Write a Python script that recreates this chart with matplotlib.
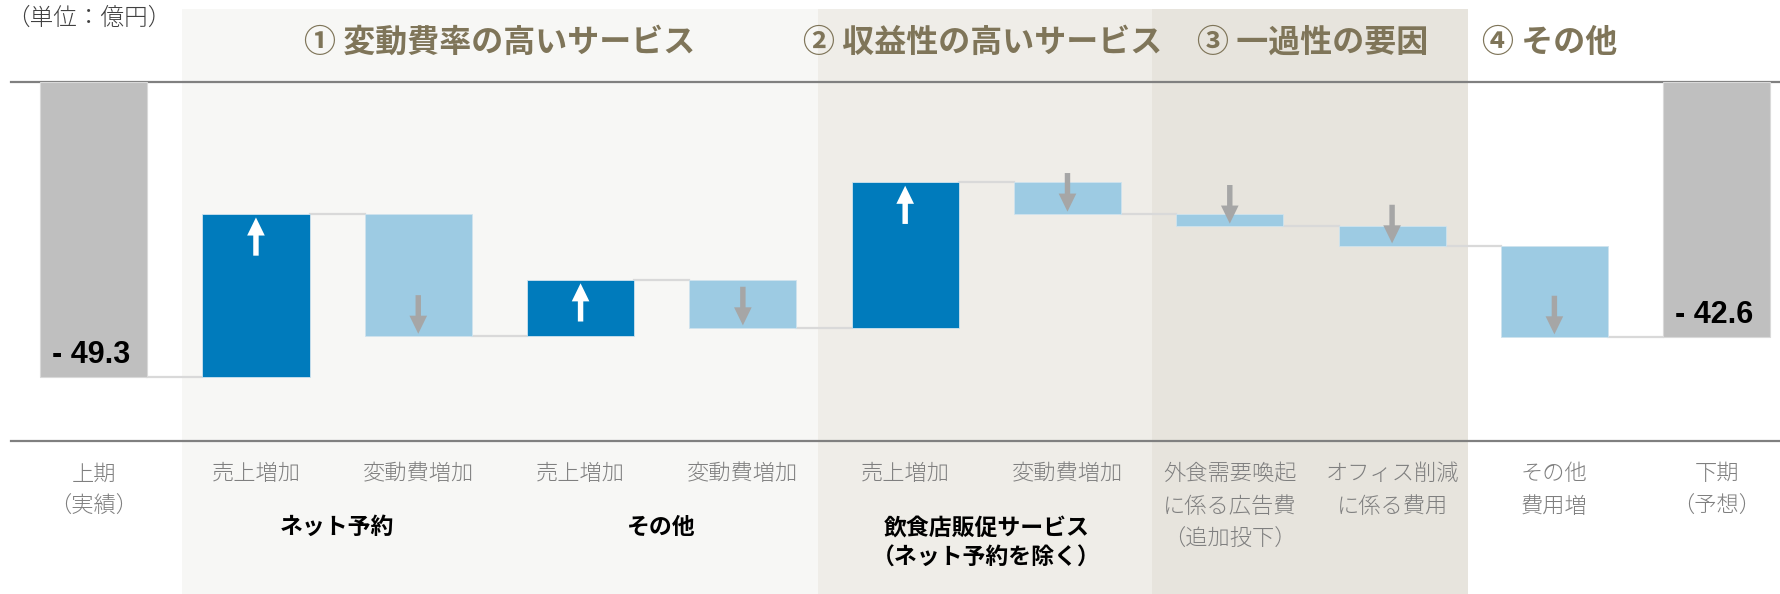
import matplotlib.pyplot as plt

plt.rcParams['font.family'] = ['Noto Sans CJK JP', 'DejaVu Sans']

# 営業損益の増減（億円）
labels = ['上期\n（実績）', '売上増加', '変動費増加', '売上増加', '変動費増加',
          '売上増加', '変動費増加', '外食需要喚起\nに係る広告費\n（追加投下）',
          'オフィス削減\nに係る費用', 'その他\n費用増', '下期\n（予想）']
start_value = -49.3
changes = [27.2, -20.4, 9.4, -8.0, 24.3, -5.3, -2.0, -3.3, -15.2]
end_value = -42.6
start_label = '- 49.3'
end_label = '- 42.6'

headers = ['① 変動費率の高いサービス', '② 収益性の高いサービス', '③ 一過性の要因', '④ その他']
sub_groups = ['ネット予約', 'その他', '飲食店販促サービス\n（ネット予約を除く）']

# layout
header_x = [2.5, 5.48, 7.51, 8.97]
sub_group_x = [1.5, 3.5, 5.5]
bands = [(0.542, 4.465, '#F7F7F5'), (4.465, 6.521, '#EFEDE8'), (6.521, 8.466, '#E7E4DD')]
width = 0.66
dark_blue = '#007BBC'
light_blue = '#9DCBE3'
grey_bar = '#BFBFBF'
arrow_grey = '#A6A6A6'
head_color = '#7F7559'
label_color = '#7F7F7F'

fig = plt.figure(figsize=(17.8, 5.94), dpi=100)
ax = fig.add_axes([0, 0, 1, 1])
ax.set_xlim(-0.577, 10.39)
ax.set_ylim(-85.58, 13.65)
ax.axis('off')

for x0, x1, c in bands:
    ax.fill_between([x0, x1], -90, 12.1, color=c, lw=0, zorder=0)

ax.plot([-0.51, 10.5], [0, 0], color='#808080', lw=1.6, zorder=1)
ax.plot([-0.51, 10.5], [-60, -60], color='#808080', lw=1.6, zorder=1)

# start / end totals hang from zero
n = len(labels)
ax.bar(0, start_value, width=width, color=grey_bar, edgecolor='#D9D9D9', lw=0.8, zorder=2)
ax.bar(n - 1, end_value, width=width, color=grey_bar, edgecolor='#D9D9D9', lw=0.8, zorder=2)

level = start_value
levels = [level]
for i, d in enumerate(changes, start=1):
    new = level + d
    color = dark_blue if d > 0 else light_blue
    ax.bar(i, abs(d), bottom=min(level, new), width=width, color=color,
           edgecolor='#CFE3EE', lw=0.6, zorder=2)
    arrow = dict(arrowstyle='simple,head_length=13,head_width=12.7,tail_width=3.9',
                 mutation_scale=1, lw=0, shrinkA=0)
    if d > 0:
        ax.annotate('', xy=(i, new), xytext=(0, -30), textcoords='offset points',
                    arrowprops=dict(arrow, color='white', shrinkB=2.5), zorder=3)
    else:
        ax.annotate('', xy=(i, new), xytext=(0, 29.5), textcoords='offset points',
                    arrowprops=dict(arrow, color=arrow_grey, shrinkB=1.7), zorder=3)
    level = new
    levels.append(level)

# connectors between neighbouring bars
for i, lv in enumerate(levels):
    ax.plot([i + width / 2, i + 1 - width / 2], [lv, lv], color='#D9D9D9', lw=1.6, zorder=1)

ax.annotate(start_label, xy=(0, start_value), xytext=(-2, 10), textcoords='offset points',
            ha='center', va='baseline', fontsize=22, fontweight='bold',
            family='Liberation Sans', color='black', zorder=4)
ax.annotate(end_label, xy=(n - 1, end_value), xytext=(-2, 10), textcoords='offset points',
            ha='center', va='baseline', fontsize=22, fontweight='bold',
            family='Liberation Sans', color='black', zorder=4)

# category labels under the axis
line_step = 5.5
for i, lab in enumerate(labels):
    for k, line in enumerate(lab.split('\n')):
        ax.text(i, -65.6 - k * line_step, line, ha='center', va='center',
                fontsize=16, color=label_color, fontweight='light')

for x, lab in zip(sub_group_x, sub_groups):
    for k, line in enumerate(lab.split('\n')):
        ax.text(x, -74.5 - k * 5.1, line, ha='center', va='center',
                fontsize=16.5, fontweight='bold', color='black')

for x, h in zip(header_x, headers):
    ax.text(x, 6.5, h, ha='center', va='center', fontsize=23,
            fontweight='bold', color=head_color)

ax.text(-0.03, 10.6, '（単位：億円）', ha='center', va='center',
        fontsize=17, color='#404040', fontweight='light')

fig.savefig('out.png', dpi=100)
